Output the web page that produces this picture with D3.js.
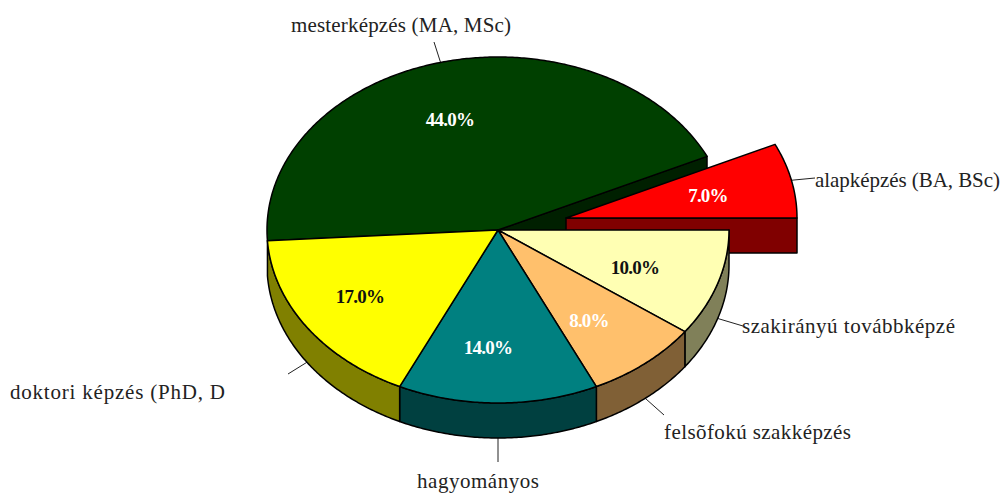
<!DOCTYPE html>
<html><head><meta charset="utf-8">
<style>html,body{margin:0;padding:0;background:#fff}svg{display:block}</style>
<script src="https://cdn.jsdelivr.net/npm/d3@7"></script>
</head><body><div id="chart"></div>
<script>
// Data, clockwise from 3 o'clock
const categories = ["szakirányú továbbképzé","felsõfokú szakképzés","hagyományos","doktori képzés (PhD, D","mesterképzés (MA, MSc)","alapképzés (BA, BSc)"];
const values = [10,8,14,17,44,7];
const valueLabels = ["10.0%","8.0%","14.0%","17.0%","44.0%","7.0%"];
const topColors = ["#FFFFB3","#FFC06C","#008080","#FFFF00","#004000","#FF0000"];
const wallColors = ["#808059","#806036","#004040","#808000","#002000","#800000"];
const valueColors = ["#111","#fff","#fff","#111","#fff","#fff"];
const exploded = [0,0,0,0,0,1];

// Layout (separate from the data)
const W=1003,H=493, cx=498, cy=230, rx=231, ry=173, depth=35;
const explodeDx=68, explodeDy=-12;
const textPos = [[742,333,213],[664,439,187],[417,488,122],[10,399,215],[291,32,220],[815,187,185]];
const leaderEnd = [[743,326],[664,415],[498,462],[288,374],[434,42],[815,178]];
const valuePos = [[635,274],[589,327],[488,354],[360,303],[450,126],[708,202]];

const svg=d3.select("#chart").append("svg").attr("width",W).attr("height",H);
const sx=d3.scaleLinear().domain([-1,1]).range([-rx,rx]);
const sy=d3.scaleLinear().domain([-1,1]).range([-ry,ry]);
const pie=d3.pie().sort(null).value(d=>d).startAngle(Math.PI/2).endAngle(Math.PI/2+2*Math.PI);
const arcs=pie(values).map((a,i)=>({...a,i,
  ox:cx+exploded[i]*explodeDx, oy:cy+exploded[i]*explodeDy}));
const P=(d,a,dz=0)=>[d.ox+sx(Math.sin(a)), d.oy-sy(Math.cos(a))+dz];
const samples=(a0,a1)=>{const n=Math.max(2,Math.ceil((a1-a0)/0.01));return d3.range(n+1).map(k=>a0+(a1-a0)*k/n);};
const line=d3.line();
const topPath=d=>line([[d.ox,d.oy],...samples(d.startAngle,d.endAngle).map(a=>P(d,a))])+"Z";
const wallPath=d=>{
  // visible outer wall: lower half only (angle between PI/2 and 3PI/2)
  const a0=Math.max(d.startAngle,Math.PI/2), a1=Math.min(d.endAngle,3*Math.PI/2);
  if(a1<=a0) return null;
  const s=samples(a0,a1);
  return line([...s.map(a=>P(d,a)),...s.slice().reverse().map(a=>P(d,a,depth))])+"Z";
};
const stroke="#000", sw=1.5;
const g=svg.append("g").attr("stroke",stroke).attr("stroke-width",sw).attr("stroke-linejoin","round");

// leaders below
const leaders=svg.insert("g",":first-child").attr("stroke","#222").attr("stroke-width",1);
arcs.forEach(d=>{
  const mid=(d.startAngle+d.endAngle)/2;
  const lower=Math.cos(mid)<0.35 && d.i!==5;
  const p=P(d,mid,lower?depth:0);
  leaders.append("line").attr("x1",p[0]).attr("y1",p[1]).attr("x2",leaderEnd[d.i][0]).attr("y2",leaderEnd[d.i][1]);
});

const green=arcs[4], red=arcs[5];
// green cut face (toward the removed slice)
const ge=P(green,green.endAngle), gb=P(green,green.endAngle,depth);
g.append("path").attr("d",line([[green.ox,green.oy],ge,gb,[green.ox,green.oy+depth]])+"Z").attr("fill",wallColors[4]);
// green top
g.append("path").attr("d",topPath(green)).attr("fill",topColors[4]);
// red slice with its cut wall
const rs=P(red,2*Math.PI+Math.PI/2);
g.append("path").attr("d",line([[red.ox,red.oy],rs,[rs[0],rs[1]+depth],[red.ox,red.oy+depth]])+"Z").attr("fill",wallColors[5]);
g.append("path").attr("d",topPath(red)).attr("fill",topColors[5]);
// walls then tops of the rest
arcs.slice(0,4).forEach(d=>{const w=wallPath(d); if(w) g.append("path").attr("d",w).attr("fill",wallColors[d.i]);});
arcs.slice(0,4).forEach(d=>{g.append("path").attr("d",topPath(d)).attr("fill",topColors[d.i]);});

// category labels
svg.append("g").selectAll("text").data(categories).join("text")
  .attr("x",(d,i)=>textPos[i][0]).attr("y",(d,i)=>textPos[i][1])
  .attr("textLength",(d,i)=>textPos[i][2]).attr("lengthAdjust","spacing")
  .attr("font-family","'Liberation Serif',serif").attr("font-size",21).attr("fill","#222").text(d=>d);
// value labels
svg.append("g").selectAll("text").data(valueLabels).join("text")
  .attr("x",(d,i)=>valuePos[i][0]).attr("y",(d,i)=>valuePos[i][1])
  .attr("text-anchor","middle").attr("font-family","'Liberation Serif',serif").attr("font-weight","bold")
  .attr("font-size",19).attr("letter-spacing",-0.8).attr("fill",(d,i)=>valueColors[i]).text(d=>d);
</script></body></html>
